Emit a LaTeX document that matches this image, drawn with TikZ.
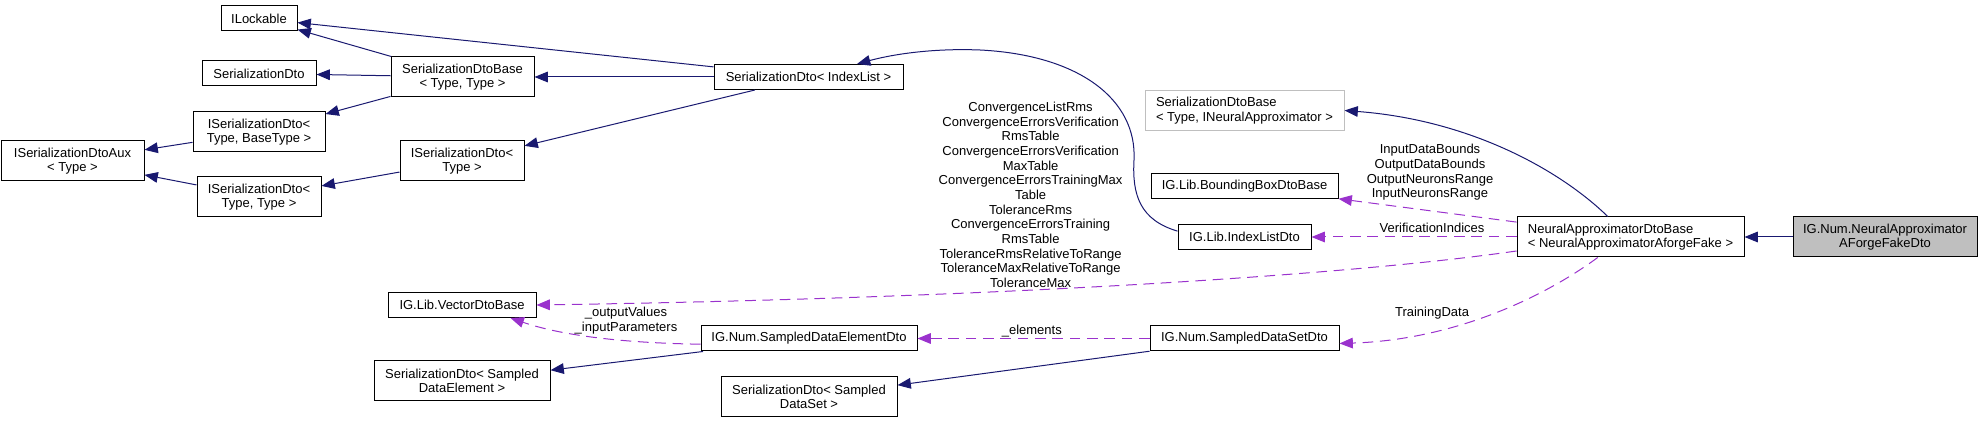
\documentclass[tikz,border=0pt]{standalone}
\usepackage{fontspec}
\setmainfont{Liberation Sans}
\usepackage{xcolor}
\usepackage{tikz}
\usetikzlibrary{arrows.meta}
\definecolor{edgeblue}{HTML}{191970}
\definecolor{edgepurple}{HTML}{9A32CD}
\definecolor{boxgray}{HTML}{BFBFBF}

\begin{document}
\begin{tikzpicture}[x=0.75pt, y=-0.75pt, font=\fontsize{9.75}{11}\selectfont,
  cls/.style={draw=black, line width=0.75pt, inner sep=1pt, align=center, minimum height=18.75pt},
  cls2/.style={cls, minimum height=30pt},
  inh/.style={draw=edgeblue, line width=0.75pt, -{Triangle[length=10pt,width=8pt]}},
  uses/.style={draw=edgepurple, line width=0.75pt, dash pattern=on 8pt off 5pt, -{Triangle[length=10pt,width=8pt]}},
  lbl/.style={align=center, inner sep=0pt}]
  \useasboundingbox (0,0) rectangle (1983,423);
  \node[cls, minimum width=57pt] (ilock) at (259,18.5) {ILockable};
  \node[cls, minimum width=85.5pt] (serdto) at (259,73.5) {SerializationDto};
  \node[cls2, minimum width=107.25pt] (sdbase) at (462.5,77) {SerializationDtoBase\\< Type, Type >};
  \node[cls2, minimum width=99pt] (isdbt) at (259,132) {ISerializationDto<\\ Type, BaseType >};
  \node[cls2, minimum width=107.25pt] (isdaux) at (72.5,161) {ISerializationDtoAux\\< Type >};
  \node[cls2, minimum width=93pt] (isdt) at (462,161) {ISerializationDto<\\ Type >};
  \node[cls2, minimum width=93pt] (isdtt) at (259,197) {ISerializationDto<\\ Type, Type >};
  \node[cls, minimum width=141.75pt] (sdil) at (808.5,77) {SerializationDto< IndexList >};
  \node[cls, minimum width=111pt] (vecdto) at (462,305) {IG.Lib.VectorDtoBase};
  \node[cls2, minimum width=132pt] (sdsde) at (462,381) {SerializationDto< Sampled\\ DataElement >};
  \node[cls, minimum width=162pt] (sdeldto) at (809,338.5) {IG.Num.SampledDataElementDto};
  \node[cls2, minimum width=132pt] (sdsds) at (809,397) {SerializationDto< Sampled\\ DataSet >};
  \node[cls2, draw=boxgray, minimum width=149.25pt, align=left] (sdbinn) at (1244.5,110.5) {SerializationDtoBase\\< Type, INeuralApproximator >};
  \node[cls, minimum width=140.25pt] (bbox) at (1244.5,186.5) {IG.Lib.BoundingBoxDtoBase};
  \node[cls, minimum width=99.75pt] (ildto) at (1244.5,237) {IG.Lib.IndexListDto};
  \node[cls, minimum width=141.75pt] (sdsdto) at (1244.5,338.5) {IG.Num.SampledDataSetDto};
  \node[cls2, minimum width=170.25pt, align=left] (nadb) at (1630.5,237) {NeuralApproximatorDtoBase\\< NeuralApproximatorAforgeFake >};
  \node[cls2, fill=boxgray, minimum width=138pt] (fake) at (1885,237) {IG.Num.NeuralApproximator\\AForgeFakeDto};
  \draw[inh] (sdbase) -- (ilock);
  \draw[inh] (sdil) -- (ilock);
  \draw[inh] (sdbase) -- (serdto);
  \draw[inh] (sdbase) -- (isdbt);
  \draw[inh] (isdbt) -- (isdaux);
  \draw[inh] (isdtt) -- (isdaux);
  \draw[inh] (isdt) -- (isdtt);
  \draw[inh] (sdil) -- (isdt);
  \draw[inh] (sdil) -- (sdbase);
  \draw[inh] (ildto.175) .. controls (1140,220) and (1132,195) .. (1134,160) .. controls (1137,100) and (1080,55) .. (980,50) .. controls (930,48) and (890,55) .. (sdil.15);
  \draw[inh] (nadb.138) .. controls (1560,170) and (1470,120) .. (sdbinn.east);
  \draw[uses] (nadb) -- (bbox);
  \draw[uses] (nadb) -- (ildto);
  \draw[uses] (nadb.187) .. controls (1350,275) and (1000,298) .. (vecdto.east);
  \draw[uses] (nadb.212) .. controls (1540,300) and (1450,340) .. (sdsdto.-3);
  \draw[uses] (sdsdto) -- (sdeldto);
  \draw[uses] (sdeldto.183) .. controls (620,343) and (560,335) .. (vecdto.-15);
  \draw[inh] (sdeldto) -- (sdsde);
  \draw[inh] (sdsdto) -- (sdsds);
  \draw[inh] (fake) -- (nadb);
  \node[lbl] (lblmembers) at (1030.6,195) {ConvergenceListRms\\ConvergenceErrorsVerification\\RmsTable\\ConvergenceErrorsVerification\\MaxTable\\ConvergenceErrorsTrainingMax\\Table\\ToleranceRms\\ConvergenceErrorsTraining\\RmsTable\\ToleranceRmsRelativeToRange\\ToleranceMaxRelativeToRange\\ToleranceMax};
  \node[lbl] (lblbounds) at (1430,172.5) {InputDataBounds\\OutputDataBounds\\OutputNeuronsRange\\InputNeuronsRange};
  \node[lbl] (lblverif) at (1432,228) {VerificationIndices};
  \node[lbl] (lbltrain) at (1432,313) {TrainingData};
  \node[lbl] (lblelem) at (1031.8,331) {\_elements};
  \node[lbl] (lblvec) at (626,320.5) {\_outputValues\\\_inputParameters};
\end{tikzpicture}
\end{document}
